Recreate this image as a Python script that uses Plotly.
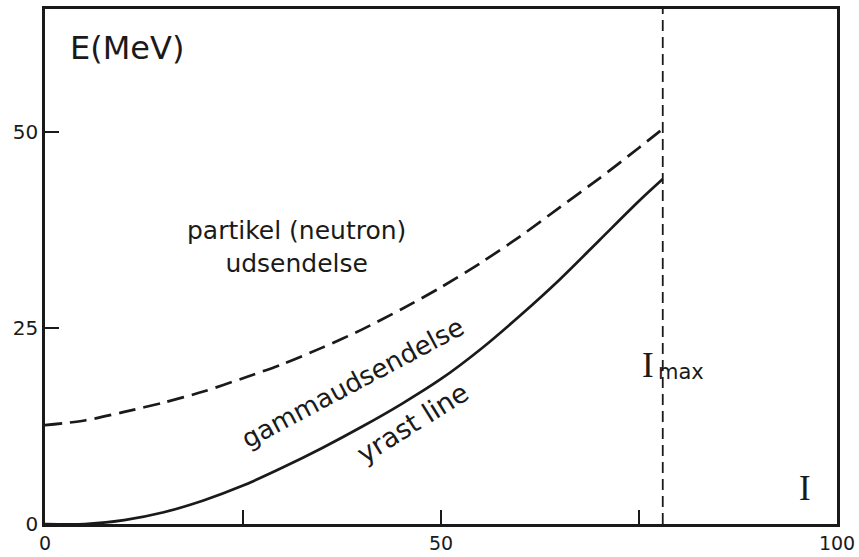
import plotly.graph_objects as go

# ---- data ----
spin = [0, 5, 10, 15, 20, 25, 30, 35, 40, 45, 50, 55, 60, 65, 70, 75, 78]
yrast_E = [0, 0, 0.5, 1.5, 3.0, 4.9, 7.2, 9.7, 12.4, 15.3, 18.5, 22.3, 26.6, 31.2, 36.2, 41.2, 44.0]
neutron_E = [12.6, 13.2, 14.3, 15.5, 16.9, 18.6, 20.4, 22.5, 24.8, 27.4, 30.2, 33.3, 36.7, 40.4, 44.1, 48.0, 50.4]
I_max = 78
x_ticks = [0, 25, 50, 75, 100]
x_tick_text = ["0", "", "50", "", "100"]
y_ticks = [0, 25, 50]
y_tick_text = ["0", "25", "50"]

INK = "#1a1a1a"
SANS = "DejaVu Sans"
SERIF = "Liberation Serif"

fig = go.Figure()

fig.add_trace(go.Scatter(
    x=spin, y=neutron_E, mode="lines",
    line=dict(color=INK, width=2.7, dash="17px,8px", shape="spline", smoothing=0.8),
    hoverinfo="skip", showlegend=False,
))
fig.add_trace(go.Scatter(
    x=spin, y=yrast_E, mode="lines",
    line=dict(color=INK, width=2.7, shape="spline", smoothing=0.8),
    hoverinfo="skip", showlegend=False,
))

fig.add_shape(type="line", xref="x", yref="paper", x0=I_max, x1=I_max, y0=0, y1=1,
              line=dict(color=INK, width=1.8, dash="11px,6px"))

def ann(x, y, text, size, family=SANS, angle=0, xanchor="center"):
    fig.add_annotation(x=x, y=y, xref="x", yref="y", text=text, showarrow=False,
                       textangle=angle, xanchor=xanchor, yanchor="middle",
                       font=dict(family=family, size=size, color=INK))

ann(2.9, 60.7, "E(MeV)", 32, xanchor="left")
ann(31.8, 35.4, "partikel (neutron)<br>udsendelse", 25)
ann(38.8, 18.0, "gammaudsendelse", 26, angle=-28)
ann(46.5, 12.9, "yrast line", 27, angle=-32)
ann(76.1, 20.2, "I", 35, family=SERIF)
ann(77.2, 19.4, "max", 21, xanchor="left")
ann(96.0, 4.5, "I", 35, family=SERIF)

fig.update_layout(
    width=859, height=557,
    margin=dict(l=45, r=22, t=9, b=33),
    paper_bgcolor="white", plot_bgcolor="white",
    xaxis=dict(range=[0, 100], tickvals=x_ticks, ticktext=x_tick_text,
               ticks="inside", ticklen=14, tickwidth=2, tickcolor=INK,
               showline=True, linewidth=2.5, linecolor=INK, mirror=True,
               showgrid=False, zeroline=False, automargin=False,
               tickfont=dict(family=SANS, size=19, color=INK)),
    yaxis=dict(range=[0, 65.7], tickvals=y_ticks, ticktext=y_tick_text,
               ticks="inside", ticklen=14, tickwidth=2, tickcolor=INK,
               showline=True, linewidth=2.5, linecolor=INK, mirror=True,
               showgrid=False, zeroline=False, automargin=False,
               tickfont=dict(family=SANS, size=20, color=INK)),
)

# remove the page's default body margin and scrollbars so the figure fills the window
fig.write_html("out.html",
               config={"displayModeBar": False},
               post_script="document.body.style.margin='0';"
                           "document.body.style.overflow='hidden';")
